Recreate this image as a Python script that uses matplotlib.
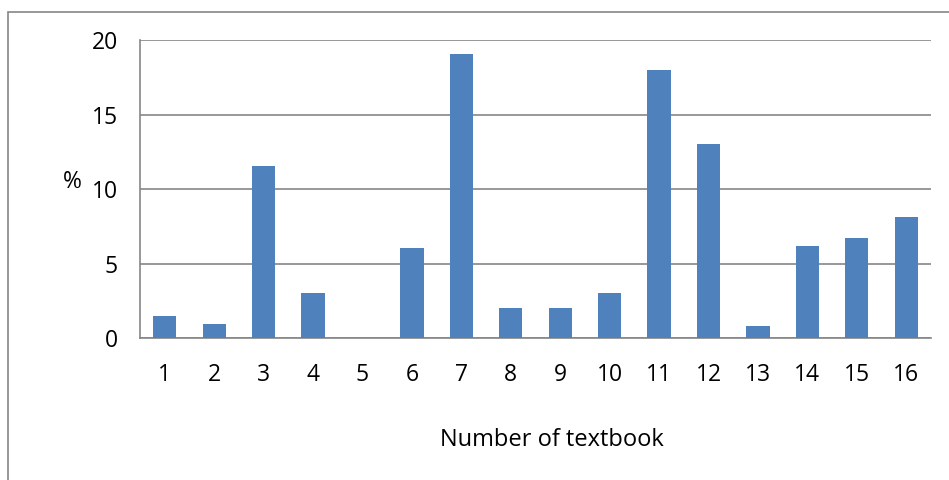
import numpy as np
import matplotlib.pyplot as plt
from matplotlib.patches import Rectangle

# DADOS DO GRAFICO
livros = ['1', '2', '3', '4', '5', '6', '7', '8', '9', '10', '11', '12', '13', '14', '15', '16']
percentual = [1.5, 0.95, 11.55, 3.0, 0.0, 6.05, 19.1, 2.0, 2.0, 3.0, 18.0, 13.05, 0.8, 6.2, 6.7, 8.1]
y_ticks = [0, 5, 10, 15, 20]

plt.rcParams['font.family'] = ['Open Sans', 'DejaVu Sans']
tam = 16.5

fig = plt.figure(figsize=(9.49, 4.8), dpi=100)
ax = fig.add_axes([140 / 949, 1 - 338 / 480, 791 / 949, (338 - 40.3) / 480])

x = np.arange(len(livros))
ax.bar(x, percentual, width=0.47, color='#4F81BD', zorder=3)

ax.set_xlim(-0.5, len(livros) - 0.5)
ax.set_ylim(0, 20)
ax.set_yticks(y_ticks)
ax.set_xticks(x)
ax.set_xticklabels(livros)
ax.tick_params(axis='both', length=0, labelsize=tam, colors='black')
ax.tick_params(axis='y', pad=16)
ax.tick_params(axis='x', pad=18)

# GRADE
ax.grid(axis='y', color='#868686', linewidth=1.2, zorder=0)
for lado in ['top', 'right']:
    ax.spines[lado].set_visible(False)
ax.spines['left'].set_color('#868686')
ax.spines['bottom'].set_color('#868686')
ax.spines['left'].set_linewidth(1.2)
ax.spines['bottom'].set_linewidth(1.2)

# RÓTULOS
fig.text(72 / 949, 1 - 182 / 480, '%', fontsize=tam, ha='center', va='center')
fig.text(552 / 949, 1 - 440 / 480, 'Number of textbook', fontsize=17, ha='center', va='center')

# BORDA EXTERNA
borda = Rectangle((8 / 949, -0.1), 1.0, 1 - 12 / 480 + 0.1, transform=fig.transFigure,
                  fill=False, edgecolor='#868686', linewidth=1.2)
fig.patches.append(borda)

fig.savefig('out.png', dpi=100)
